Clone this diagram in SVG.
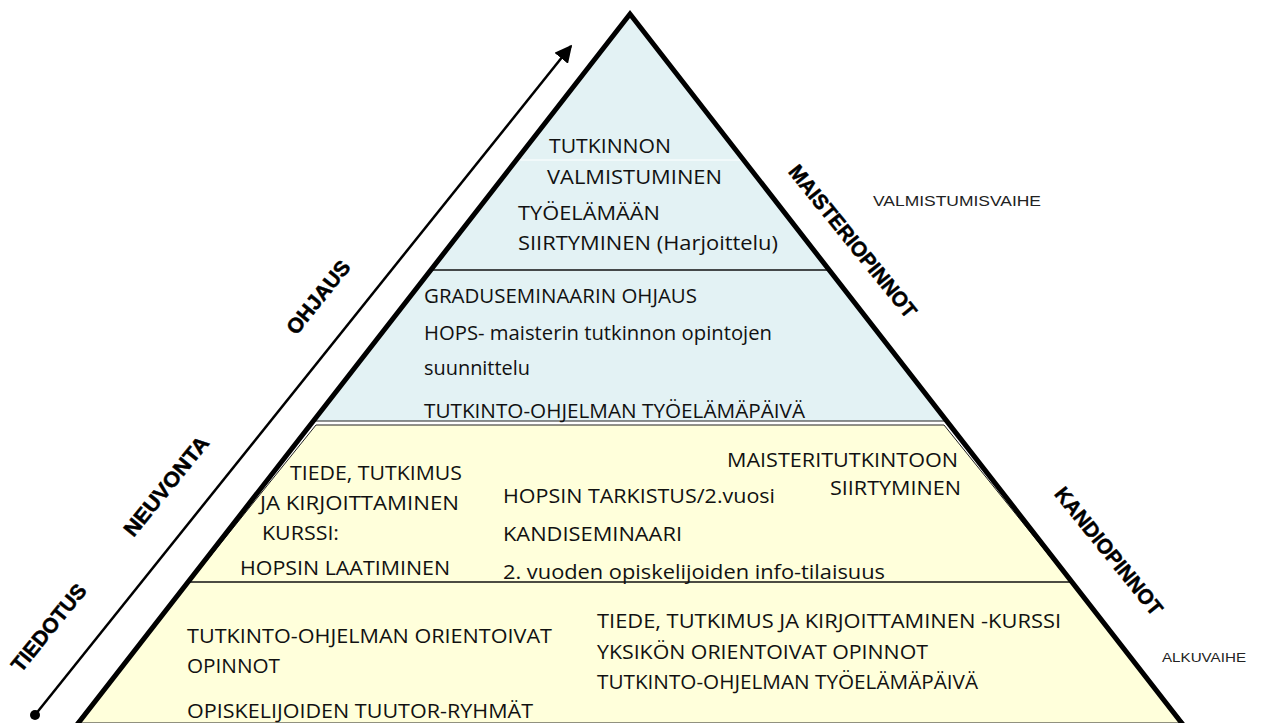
<svg xmlns="http://www.w3.org/2000/svg" width="1268" height="723" viewBox="0 0 1268 723">
<style>
.t{font-family:"Open Sans","Liberation Sans",sans-serif;font-size:20px;fill:#111}
.lbl{font-family:"Liberation Sans",Arial,sans-serif;font-weight:bold;font-size:21px;fill:#000;stroke:#000;stroke-width:0.5}
.side{font-family:"Liberation Sans",Arial,sans-serif;fill:#222}
.div{stroke:#111;stroke-width:1.3;fill:none}
</style>
<defs>
<marker id="ah" viewBox="0 0 10 10" refX="9" refY="5" markerWidth="7" markerHeight="7" markerUnits="strokeWidth" orient="auto">
<path d="M0,0 L10,5 L0,10 z" fill="#000"/>
</marker>
</defs>
<rect width="1268" height="723" fill="#fff"/>

<g id="tier-yellow">
<polygon points="316,425 944,425 1184,723 76,723" fill="#ffffdb" stroke="#222" stroke-width="1"/>
<line class="div" x1="188" y1="582" x2="1072" y2="582"/>
</g>

<g id="tier-blue">
<polygon points="630,14 947,421 313,421" fill="#e3f2f4" stroke="#222" stroke-width="1"/>
<line x1="516" y1="160" x2="745" y2="160" stroke="#fff" stroke-width="1.2"/>
<line class="div" x1="431" y1="270" x2="829" y2="270"/>
</g>

<g id="pyramid-outline">
<polyline points="76,726 630,14 1184,726" fill="none" stroke="#000" stroke-width="5" stroke-linejoin="miter"/>
</g>

<g id="connectors">
<line x1="35" y1="715" x2="571" y2="46" stroke="#000" stroke-width="2.5" marker-end="url(#ah)"/>
<circle cx="35" cy="715" r="5" fill="#000"/>
</g>

<g id="node-valmistuminen">
<text class="t" x="549" y="153" textLength="122" lengthAdjust="spacingAndGlyphs">TUTKINNON</text>
<text class="t" x="547" y="184" textLength="175" lengthAdjust="spacingAndGlyphs">VALMISTUMINEN</text>
<text class="t" x="518" y="220" textLength="142" lengthAdjust="spacingAndGlyphs">TYÖELÄMÄÄN</text>
<text class="t" x="518" y="250" textLength="260" lengthAdjust="spacingAndGlyphs">SIIRTYMINEN (Harjoittelu)</text>
</g>

<g id="node-maisteri">
<text class="t" x="424" y="303" textLength="273" lengthAdjust="spacingAndGlyphs">GRADUSEMINAARIN OHJAUS</text>
<text class="t" x="424" y="340" textLength="348" lengthAdjust="spacingAndGlyphs">HOPS- maisterin tutkinnon opintojen</text>
<text class="t" x="424" y="375" textLength="106" lengthAdjust="spacingAndGlyphs">suunnittelu</text>
<text class="t" x="424" y="418" textLength="381" lengthAdjust="spacingAndGlyphs">TUTKINTO-OHJELMAN TYÖELÄMÄPÄIVÄ</text>
</g>

<g id="node-kandi">
<text class="t" x="290" y="480" textLength="172" lengthAdjust="spacingAndGlyphs">TIEDE, TUTKIMUS</text>
<text class="t" x="260" y="510" textLength="199" lengthAdjust="spacingAndGlyphs">JA KIRJOITTAMINEN</text>
<text class="t" x="262" y="540" textLength="77" lengthAdjust="spacingAndGlyphs">KURSSI:</text>
<text class="t" x="240" y="575" textLength="210" lengthAdjust="spacingAndGlyphs">HOPSIN LAATIMINEN</text>
<text class="t" x="503" y="503" textLength="272" lengthAdjust="spacingAndGlyphs">HOPSIN TARKISTUS/2.vuosi</text>
<text class="t" x="503" y="541" textLength="179" lengthAdjust="spacingAndGlyphs">KANDISEMINAARI</text>
<text class="t" x="503" y="579" textLength="382" lengthAdjust="spacingAndGlyphs">2. vuoden opiskelijoiden info-tilaisuus</text>
<text class="t" x="727" y="467" textLength="231" lengthAdjust="spacingAndGlyphs">MAISTERITUTKINTOON</text>
<text class="t" x="830" y="495" textLength="131" lengthAdjust="spacingAndGlyphs">SIIRTYMINEN</text>
</g>

<g id="node-alku">
<text class="t" x="187" y="643" textLength="365" lengthAdjust="spacingAndGlyphs">TUTKINTO-OHJELMAN ORIENTOIVAT</text>
<text class="t" x="187" y="673" textLength="93" lengthAdjust="spacingAndGlyphs">OPINNOT</text>
<text class="t" x="187" y="718" textLength="346" lengthAdjust="spacingAndGlyphs">OPISKELIJOIDEN TUUTOR-RYHMÄT</text>
<text class="t" x="597" y="628" textLength="464" lengthAdjust="spacingAndGlyphs">TIEDE, TUTKIMUS JA KIRJOITTAMINEN -KURSSI</text>
<text class="t" x="597" y="659" textLength="331" lengthAdjust="spacingAndGlyphs">YKSIKÖN ORIENTOIVAT OPINNOT</text>
<text class="t" x="597" y="689" textLength="381" lengthAdjust="spacingAndGlyphs">TUTKINTO-OHJELMAN TYÖELÄMÄPÄIVÄ</text>
</g>

<g id="labels-left">
<text class="lbl" transform="translate(48.5 627.5) rotate(-51)" x="0" y="7.5" text-anchor="middle" textLength="106" lengthAdjust="spacingAndGlyphs">TIEDOTUS</text>
<text class="lbl" transform="translate(166 486) rotate(-51)" x="0" y="7.5" text-anchor="middle" textLength="122" lengthAdjust="spacingAndGlyphs">NEUVONTA</text>
<text class="lbl" transform="translate(318 297) rotate(-51)" x="0" y="7.5" text-anchor="middle" textLength="88" lengthAdjust="spacingAndGlyphs">OHJAUS</text>
</g>

<g id="labels-right">
<text class="lbl" transform="translate(853 241) rotate(51)" x="0" y="7.5" text-anchor="middle" textLength="190" lengthAdjust="spacingAndGlyphs">MAISTERIOPINNOT</text>
<text class="lbl" transform="translate(1109 551) rotate(51)" x="0" y="7.5" text-anchor="middle" textLength="158" lengthAdjust="spacingAndGlyphs">KANDIOPINNOT</text>
<text class="side" x="873" y="206" font-size="15" textLength="168" lengthAdjust="spacingAndGlyphs">VALMISTUMISVAIHE</text>
<text class="side" x="1162" y="662" font-size="13" textLength="84" lengthAdjust="spacingAndGlyphs">ALKUVAIHE</text>
</g>
</svg>
